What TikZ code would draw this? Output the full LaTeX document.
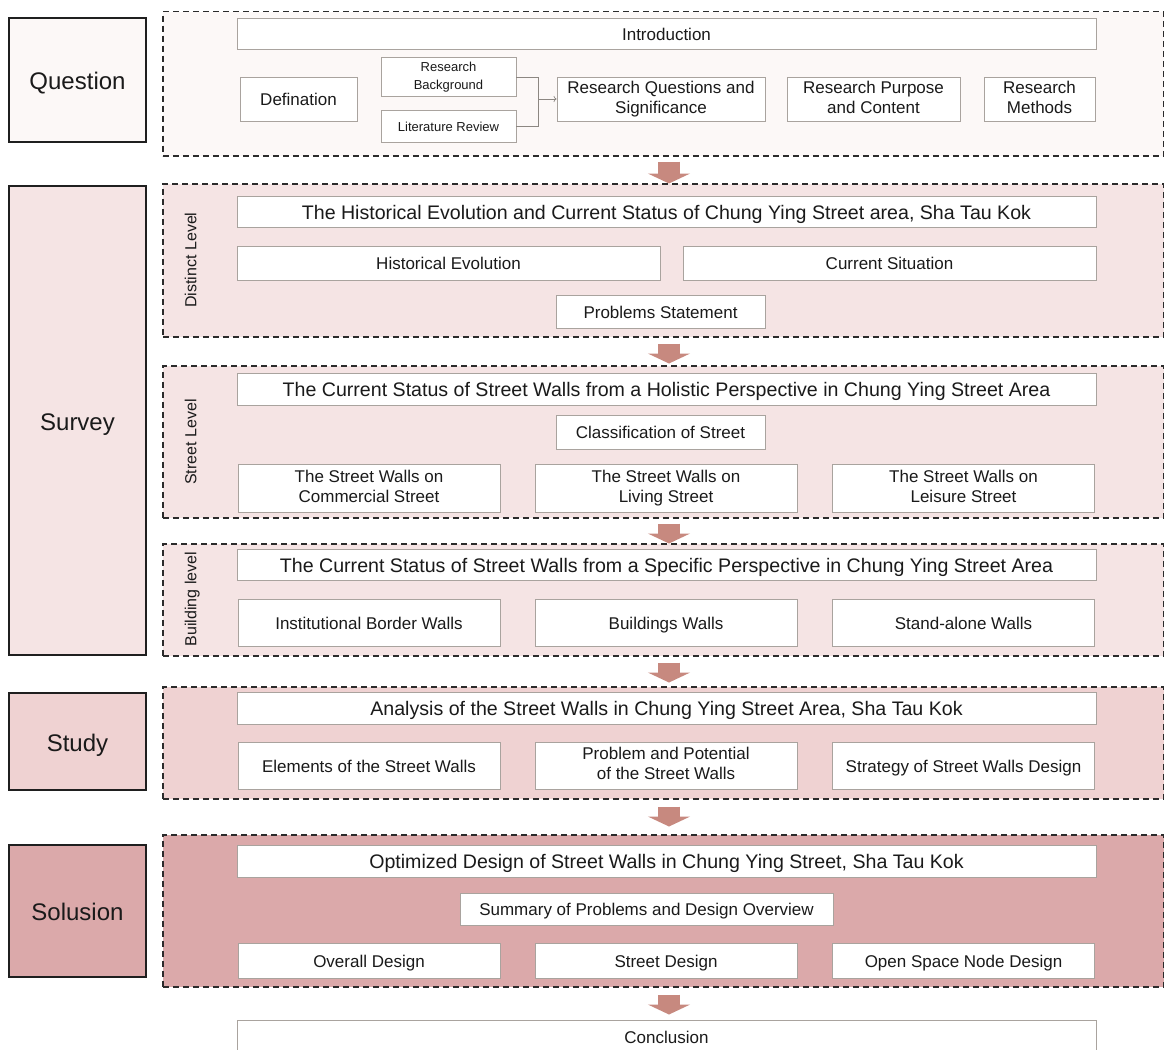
\documentclass[tikz,border=0pt]{standalone}
\usepackage{fontspec}
\setmainfont{Liberation Sans}
\usetikzlibrary{positioning,arrows.meta}
\definecolor{textc}{HTML}{1A1A1A}
\definecolor{stageline}{HTML}{1F1F1F}
\definecolor{panelline}{HTML}{2B2B2B}
\definecolor{itemline}{HTML}{A9A39E}
\definecolor{linkc}{HTML}{8C8782}
\definecolor{qfill}{HTML}{FCF8F7}
\definecolor{sfill}{HTML}{F5E4E4}
\definecolor{yfill}{HTML}{EFD2D2}
\definecolor{ofill}{HTML}{DBA9AA}
\definecolor{flowc}{HTML}{C7897F}
\newcommand{\fullwidth}{859pt}
\newcommand{\thirdwidth}{262pt}
\newcommand{\stagewidth}{137pt}
\newcommand{\panelwidth}{1001pt}
\newcommand{\boxstrut}{\rule[-0.21em]{0pt}{1.23em}}
\tikzstyle{stage}=[draw=stageline,line width=1.4pt,text=textc,shape=rectangle,
                   minimum width=\stagewidth,inner sep=0pt,
                   execute at begin node=\boxstrut,
                   font=\fontsize{24}{28}\selectfont]
\tikzstyle{panel}=[draw=panelline,line width=1.5pt,dash pattern=on 6pt off 4pt,
                   minimum width=\panelwidth,anchor=north west,inner sep=0pt]
\tikzstyle{item}=[draw=itemline,fill=white,line width=0.8pt,text=textc,align=center,
                  inner sep=0pt,font=\fontsize{17}{20}\selectfont,
                  execute at begin node=\boxstrut,execute at end node=\boxstrut]
\tikzstyle{headline}=[item,minimum width=\fullwidth,font=\fontsize{19.6}{23}\selectfont]
\tikzstyle{note}=[item,font=\fontsize{13}{18}\selectfont]
\tikzstyle{level}=[rotate=90,text=textc,inner sep=0pt,
                   execute at begin node=\boxstrut,
                   font=\fontsize{16}{19}\selectfont]
\tikzstyle{link}=[draw=linkc,line width=0.7pt]
\tikzstyle{flow}=[draw=flowc,line width=22pt,-{Triangle[length=10pt,width=42pt]}]

\begin{document}
\begin{tikzpicture}[x=1pt,y=-1pt]
\useasboundingbox (0,0) rectangle (1164,1049);
\coordinate (axis) at (669,0);

\node [stage, fill=qfill, minimum height=124pt] (question) at (77.5,80) {Question};
\node [panel, fill=qfill, minimum height=144pt] (qpanel) at (162,11) {};
\node [item, minimum width=\fullwidth, minimum height=31pt] (intro) at (666.5,33.5) {Introduction};
\node [item, minimum width=117pt, minimum height=44pt] (defin) at (298.5,99) {Defination};
\node [note, minimum width=135pt, minimum height=39pt] (bground) at (448.5,77) {Research\\Background};
\node [note, minimum width=135pt, minimum height=32pt] (litrev) at (448.5,126) {Literature Review};
\node [item, minimum width=208pt, minimum height=44pt] (rquest) at (661,99) {Research Questions and\\Significance};
\node [item, minimum width=173pt, minimum height=44pt] (rpurpose) at (873.5,99) {Research Purpose\\and Content};
\node [item, minimum width=111pt, minimum height=44pt] (rmethod) at (1039.5,99) {Research\\Methods};
\coordinate (merge) at (538,99);
\draw [link] (bground.east) -| (merge);
\draw [link] (litrev.east) -| (merge);
\draw [link, -{To[length=3pt]}] (merge) -- (rquest.west);

\node [stage, fill=sfill, minimum height=469pt] (survey) at (77.5,420.5) {Survey};
\node [panel, fill=sfill, minimum height=153pt] (dpanel) at (162,183) {};
\node [level] (dlevel) at (190,260) {Distinct Level};
\node [headline, minimum height=31pt] (dtitle) at (666.5,211.5) {The Historical Evolution and Current Status of Chung Ying Street area, Sha Tau Kok};
\node [item, minimum width=423pt, minimum height=34pt] (history) at (448.5,263) {Historical Evolution};
\node [item, minimum width=413pt, minimum height=34pt] (current) at (889.5,263) {Current Situation};
\node [item, minimum width=209pt, minimum height=33pt] (problems) at (660.5,311.5) {Problems Statement};

\node [panel, fill=sfill, minimum height=152pt] (spanel) at (162,365) {};
\node [level] (slevel) at (190,442) {Street Level};
\node [headline, minimum height=32pt] (stitle) at (666.5,389) {The Current Status of Street Walls from a Holistic Perspective in Chung Ying Street Area};
\node [item, minimum width=209pt, minimum height=34pt] (classify) at (660.5,432) {Classification of Street};
\node [item, minimum width=\thirdwidth, minimum height=48pt] (commercial) at (369,488) {The Street Walls on\\Commercial Street};
\node [item, minimum width=\thirdwidth, minimum height=48pt] (living) at (666,488) {The Street Walls on\\Living Street};
\node [item, minimum width=\thirdwidth, minimum height=48pt] (leisure) at (963.5,488) {The Street Walls on\\Leisure Street};

\node [panel, fill=sfill, minimum height=112pt] (bpanel) at (162,543) {};
\node [level] (blevel) at (190,599) {Building level};
\node [headline, minimum height=31pt] (btitle) at (666.5,564.5) {The Current Status of Street Walls from a Specific Perspective in Chung Ying Street Area};
\node [item, minimum width=\thirdwidth, minimum height=47pt] (border) at (369,622.5) {Institutional Border Walls};
\node [item, minimum width=\thirdwidth, minimum height=47pt] (buildings) at (666,622.5) {Buildings Walls};
\node [item, minimum width=\thirdwidth, minimum height=47pt] (standalone) at (963.5,622.5) {Stand-alone Walls};

\node [stage, fill=yfill, minimum height=97pt] (study) at (77.5,741.5) {Study};
\node [panel, fill=yfill, minimum height=112pt] (ypanel) at (162,686) {};
\node [headline, minimum height=32pt] (ytitle) at (666.5,708) {Analysis of the Street Walls in Chung Ying Street Area, Sha Tau Kok};
\node [item, minimum width=\thirdwidth, minimum height=47pt] (elements) at (369,765.5) {Elements of the Street Walls};
\node [item, minimum width=\thirdwidth, minimum height=47pt] (potential) at (666,765.5) {Problem and Potential\\of the Street Walls};
\node [item, minimum width=\thirdwidth, minimum height=47pt] (strategy) at (963.5,765.5) {Strategy of Street Walls Design};

\node [stage, fill=ofill, minimum height=132pt] (solusion) at (77.5,911) {Solusion};
\node [panel, fill=ofill, minimum height=152pt] (opanel) at (162,834) {};
\node [headline, minimum height=32pt] (otitle) at (666.5,861) {Optimized Design of Street Walls in Chung Ying Street, Sha Tau Kok};
\node [item, minimum width=373pt, minimum height=32pt] (summary) at (646.5,909) {Summary of Problems and Design Overview};
\node [item, minimum width=\thirdwidth, minimum height=35pt] (overall) at (369,960.5) {Overall Design};
\node [item, minimum width=\thirdwidth, minimum height=35pt] (streetd) at (666,960.5) {Street Design};
\node [item, minimum width=\thirdwidth, minimum height=35pt] (openspace) at (963.5,960.5) {Open Space Node Design};

\node [item, minimum width=\fullwidth, minimum height=34pt] (conclusion) at (666.5,1037) {Conclusion};

\draw [flow] (qpanel.south -| axis) ++(0,5) -- ++(0,22);
\draw [flow] (dpanel.south -| axis) ++(0,6) -- ++(0,20);
\draw [flow] (spanel.south -| axis) ++(0,5) -- ++(0,20);
\draw [flow] (bpanel.south -| axis) ++(0,6) -- ++(0,20);
\draw [flow] (ypanel.south -| axis) ++(0,7) -- ++(0,20);
\draw [flow] (opanel.south -| axis) ++(0,7) -- ++(0,20);
\end{tikzpicture}
\end{document}
